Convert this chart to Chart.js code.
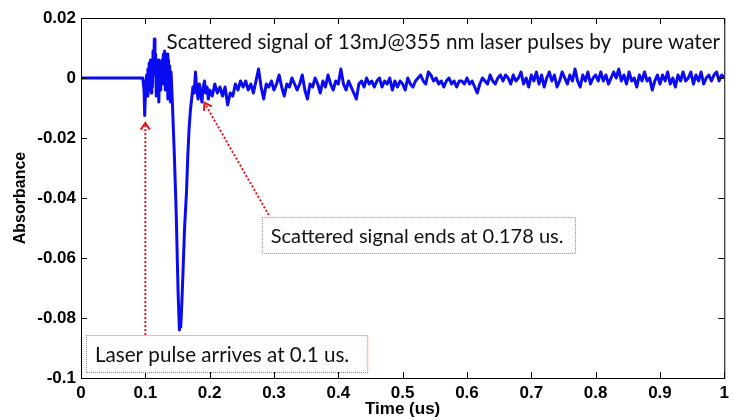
<!DOCTYPE html>
<html>

<head>
  <title>Scattered signal</title>
  <script src="https://cdn.jsdelivr.net/npm/chart.js@4.4.0/dist/chart.umd.min.js"></script>
  <style>
    html, body { margin: 0; padding: 0; background: #fff; }
  </style>
</head>

<body>
  <canvas id="signalChart" width="734" height="420"></canvas>

  <script>
    // trace: time in us, absorbance
    const timeUs = [
      0, 0.096, 0.098, 0.099, 0.1005,
      0.102, 0.103, 0.104, 0.105, 0.106, 0.107, 0.108, 0.109, 0.110, 0.111,
      0.112, 0.113, 0.114, 0.115, 0.116, 0.117, 0.118, 0.119, 0.120, 0.121,
      0.122, 0.123, 0.124,
      0.126, 0.127, 0.128, 0.129, 0.130, 0.131, 0.132, 0.133, 0.134, 0.135,
      0.136, 0.137, 0.138, 0.139, 0.140,
      0.142, 0.145, 0.148, 0.151, 0.153, 0.154, 0.155, 0.156, 0.158, 0.161, 0.164,
      0.166, 0.168, 0.170, 0.172, 0.174, 0.176, 0.178, 0.180, 0.182, 0.184,
      0.186, 0.188, 0.190, 0.192, 0.194, 0.196, 0.198, 0.200,
      0.204, 0.208, 0.212, 0.216, 0.220, 0.224, 0.228, 0.232, 0.236, 0.240,
      0.244, 0.248, 0.252, 0.256, 0.260, 0.264, 0.268, 0.272, 0.276, 0.280,
      0.284, 0.288, 0.292, 0.296, 0.300, 0.304, 0.308, 0.312, 0.316, 0.320,
      0.324, 0.328, 0.332, 0.336, 0.340, 0.344, 0.348, 0.352, 0.356, 0.360,
      0.364, 0.368, 0.372, 0.376, 0.380, 0.384, 0.388, 0.392, 0.396, 0.400,
      0.404, 0.408, 0.412, 0.416, 0.420, 0.424, 0.428, 0.432, 0.436, 0.440,
      0.444, 0.448, 0.452, 0.456, 0.460, 0.464, 0.468, 0.472, 0.476, 0.480,
      0.484, 0.488, 0.492, 0.496, 0.500, 0.504, 0.508, 0.512, 0.516, 0.520,
      0.524, 0.528, 0.532, 0.536, 0.540, 0.544, 0.548, 0.552, 0.556, 0.560,
      0.564, 0.568, 0.572, 0.576, 0.580, 0.584, 0.588, 0.592, 0.596, 0.600,
      0.604, 0.608, 0.612, 0.616, 0.620, 0.624, 0.628, 0.632, 0.636, 0.640,
      0.644, 0.648, 0.652, 0.656, 0.660, 0.664, 0.668, 0.672, 0.676, 0.680,
      0.684, 0.688, 0.692, 0.696, 0.700, 0.704, 0.708, 0.712, 0.716, 0.720,
      0.724, 0.728, 0.732, 0.736, 0.740, 0.744, 0.748, 0.752, 0.756, 0.760,
      0.764, 0.768, 0.772, 0.776, 0.780, 0.784, 0.788, 0.792, 0.796, 0.800,
      0.804, 0.808, 0.812, 0.816, 0.820, 0.824, 0.828, 0.832, 0.836, 0.840,
      0.844, 0.848, 0.852, 0.856, 0.860, 0.864, 0.868, 0.872, 0.876, 0.880,
      0.884, 0.888, 0.892, 0.896, 0.900, 0.904, 0.908, 0.912, 0.916, 0.920,
      0.924, 0.928, 0.932, 0.936, 0.940, 0.944, 0.948, 0.952, 0.956, 0.960,
      0.964, 0.968, 0.972, 0.976, 0.980, 0.984, 0.988, 0.992, 0.996, 1.000
    ];
    const absorbance = [
      0, 0, -0.004, -0.0125, -0.003,
      0.001, -0.006, 0.003, -0.004, 0.005, -0.002, 0.006, -0.005, 0.004, -0.003,
      0.009, 0.002, 0.013, 0.001, 0.008, -0.006, 0.004, -0.003, 0.006, -0.008,
      0.002, -0.004, 0.003,
      0.006, -0.002, 0.008, 0.001, 0.009, -0.004, 0.007, -0.003, 0.008, -0.007,
      0.006, -0.002, 0.004, -0.008, 0.002,
      -0.008, -0.025, -0.045, -0.072, -0.084, -0.078, -0.083, -0.079, -0.068, -0.050, -0.038,
      -0.026, -0.017, -0.011, -0.007, -0.003, -0.005, 0.002, -0.004, -0.007, -0.002,
      -0.005, -0.008, -0.003, -0.001, -0.005, -0.003, -0.007, -0.004,
      -0.006, -0.002, -0.005, -0.003, -0.006, -0.003, -0.009, -0.005, -0.006, -0.002,
      -0.004, -0.001, -0.003, -0.001, -0.004, -0.002, -0.005, -0.001, 0.003, -0.003,
      -0.007, -0.002, -0.003, -0.001, -0.004, -0.002, 0.001, -0.003, -0.006, -0.002,
      -0.003, 0.000, -0.002, -0.004, -0.002, 0.001, -0.004, -0.007, -0.002, -0.003,
      0.000, -0.002, -0.005, -0.001, -0.003, 0.001, -0.002, -0.004, -0.001, -0.002,
      0.003, -0.002, -0.004, -0.001, -0.003, -0.005, -0.007, -0.002, -0.001, -0.003,
      0.000, -0.002, -0.001, -0.003, -0.001, 0.000, -0.003, -0.001, -0.002, 0.000,
      -0.004, -0.001, -0.003, -0.001, -0.002, -0.004, 0.000, -0.002, -0.003, -0.001,
      0.000, 0.001, -0.001, -0.002, 0.002, 0.001, -0.001, 0.000, -0.002, -0.001,
      -0.003, -0.001, 0.000, -0.002, -0.001, -0.003, -0.001, -0.001, -0.002, 0.000,
      -0.002, -0.001, -0.003, -0.005, -0.002, 0.000, -0.001, -0.002, 0.001, -0.001,
      -0.002, 0.000, 0.001, -0.001, 0.001, 0.000, -0.002, 0.001, -0.001, 0.000,
      0.002, -0.002, 0.000, -0.003, 0.001, -0.001, 0.002, -0.002, 0.001, -0.003,
      0.000, 0.002, -0.001, 0.001, -0.003, -0.001, 0.002, 0.000, -0.002, 0.001,
      -0.001, 0.003, -0.001, -0.003, 0.001, -0.001, 0.002, -0.002, 0.000, 0.001,
      -0.001, 0.002, -0.001, 0.001, -0.002, 0.000, 0.002, 0.000, 0.003, -0.001,
      0.001, -0.002, 0.002, -0.001, 0.000, -0.003, 0.001, -0.001, 0.002, -0.001,
      0.000, -0.004, -0.001, 0.001, -0.002, 0.001, -0.001, 0.002, -0.002, 0.000,
      -0.003, 0.001, -0.001, 0.002, -0.001, 0.000, 0.002, -0.002, 0.001, -0.001,
      0.002, -0.002, 0.000, 0.001, -0.001, 0.001, 0.002, -0.001, 0.001, 0.000
    ];

    const xTicks = [0, 0.1, 0.2, 0.3, 0.4, 0.5, 0.6, 0.7, 0.8, 0.9, 1];
    const xTickLabels = ['0', '0.1', '0.2', '0.3', '0.4', '0.5', '0.6', '0.7', '0.8', '0.9', '1'];
    const yTicks = [0.02, 0, -0.02, -0.04, -0.06, -0.08, -0.1];
    const yTickLabels = ['0.02', '0', '-0.02', '-0.04', '-0.06', '-0.08', '-0.1'];

    const noteTitle = 'Scattered signal of 13mJ@355 nm laser pulses by  pure water';
    const noteEnd = 'Scattered signal ends at 0.178 us.';
    const noteStart = 'Laser pulse arrives at 0.1 us.';

    const tickFont = { family: '"Liberation Sans", Arial, sans-serif', size: 17, weight: 'bold' };
    const noteFamily = 'Lato, "Noto Sans", sans-serif';

    // write text so it spans px x0..x1, centred on yMid
    function fitText(ctx, text, x0, x1, yMid) {
      ctx.font = '100px ' + noteFamily;
      const w = ctx.measureText(text).width;
      ctx.font = (100 * (x1 - x0) / w).toFixed(2) + 'px ' + noteFamily;
      ctx.fillStyle = '#111';
      ctx.textAlign = 'left';
      ctx.textBaseline = 'middle';
      ctx.fillText(text, x0, yMid);
    }

    function dottedArrow(ctx, x0, y0, x1, y1) {
      ctx.save();
      ctx.strokeStyle = '#e8101a';
      ctx.lineWidth = 2;
      ctx.setLineDash([2, 2]);
      ctx.beginPath();
      ctx.moveTo(x0, y0);
      ctx.lineTo(x1, y1);
      ctx.stroke();
      const a = Math.atan2(y1 - y0, x1 - x0);
      ctx.setLineDash([]);
      ctx.beginPath();
      ctx.moveTo(x1 - 8 * Math.cos(a - 0.6), y1 - 8 * Math.sin(a - 0.6));
      ctx.lineTo(x1, y1);
      ctx.lineTo(x1 - 8 * Math.cos(a + 0.6), y1 - 8 * Math.sin(a + 0.6));
      ctx.stroke();
      ctx.restore();
    }

    function dottedBox(ctx, l, t, r, b) {
      ctx.save();
      ctx.fillStyle = '#fff';
      ctx.fillRect(l, t, r - l, b - t);
      ctx.strokeStyle = '#e05a5a';
      ctx.lineWidth = 1;
      ctx.setLineDash([1, 1]);
      ctx.strokeRect(l + 0.5, t + 0.5, r - l, b - t);
      ctx.restore();
    }

    // frame, inward ticks and the callouts
    const extrasPlugin = {
      id: 'extras',
      afterDraw(chart) {
        const { ctx, chartArea: area, scales: { x, y } } = chart;
        ctx.save();
        ctx.strokeStyle = '#000';
        ctx.lineWidth = 1;
        ctx.strokeRect(area.left + 0.5, area.top + 0.5, area.right - area.left, area.bottom - area.top);
        ctx.beginPath();
        xTicks.forEach(v => {
          const px = Math.round(x.getPixelForValue(v)) + 0.5;
          ctx.moveTo(px, area.bottom); ctx.lineTo(px, area.bottom - 6);
          ctx.moveTo(px, area.top); ctx.lineTo(px, area.top + 6);
        });
        yTicks.forEach(v => {
          const py = Math.round(y.getPixelForValue(v)) + 0.5;
          ctx.moveTo(area.left, py); ctx.lineTo(area.left + 6, py);
          ctx.moveTo(area.right, py); ctx.lineTo(area.right - 6, py);
        });
        ctx.stroke();
        ctx.restore();

        fitText(ctx, noteTitle, x.getPixelForValue(0.133), x.getPixelForValue(0.994), y.getPixelForValue(0.012));

        dottedArrow(ctx, x.getPixelForValue(0.1), y.getPixelForValue(-0.0857),
          x.getPixelForValue(0.1), y.getPixelForValue(-0.015));
        dottedArrow(ctx, x.getPixelForValue(0.292), y.getPixelForValue(-0.0457),
          x.getPixelForValue(0.192), y.getPixelForValue(-0.0083));

        dottedBox(ctx, x.getPixelForValue(0.281), y.getPixelForValue(-0.0463),
          x.getPixelForValue(0.768), y.getPixelForValue(-0.0583));
        fitText(ctx, noteEnd, x.getPixelForValue(0.295), x.getPixelForValue(0.750), y.getPixelForValue(-0.0527));

        dottedBox(ctx, x.getPixelForValue(0.0077), y.getPixelForValue(-0.0857),
          x.getPixelForValue(0.445), y.getPixelForValue(-0.098));
        fitText(ctx, noteStart, x.getPixelForValue(0.0216), x.getPixelForValue(0.417), y.getPixelForValue(-0.0923));
      }
    };

    const ctx = document.getElementById('signalChart').getContext('2d');
    new Chart(ctx, {
      type: 'line',
      data: {
        datasets: [{
          data: timeUs.map((t, i) => ({ x: t, y: absorbance[i] })),
          borderColor: '#0b0bf2',
          borderWidth: 3,
          borderJoinStyle: 'round',
          pointRadius: 0,
          tension: 0,
          fill: false,
        }],
      },
      options: {
        responsive: false,
        devicePixelRatio: 1,
        animation: false,
        layout: { padding: { top: 18, right: 6, left: 0, bottom: 0 } },
        plugins: { legend: { display: false }, tooltip: { enabled: false } },
        scales: {
          x: {
            type: 'linear',
            min: 0,
            max: 1,
            afterBuildTicks: s => { s.ticks = xTicks.map(v => ({ value: v })); },
            afterFit: s => { s.height = 42; },
            grid: { display: false, drawTicks: false, tickLength: 0 },
            border: { display: false },
            ticks: {
              font: tickFont,
              color: '#000',
              padding: 5,
              maxRotation: 0,
              autoSkip: false,
              callback: (v, i) => xTickLabels[i],
            },
            title: {
              display: true,
              text: 'Time (us)',
              color: '#000',
              font: { family: tickFont.family, size: 17, weight: 'bold' },
              padding: { top: 0, bottom: 0 },
            },
          },
          y: {
            type: 'linear',
            min: -0.1,
            max: 0.02,
            afterBuildTicks: s => { s.ticks = yTicks.map(v => ({ value: v })); },
            afterFit: s => { s.width = 81; },
            grid: { display: false, drawTicks: false, tickLength: 0 },
            border: { display: false },
            ticks: {
              font: tickFont,
              color: '#000',
              padding: 5,
              autoSkip: false,
              callback: (v, i) => yTickLabels[i],
            },
            title: {
              display: true,
              text: 'Absorbance',
              color: '#000',
              font: { family: tickFont.family, size: 16, weight: 'bold' },
              padding: { top: 11, bottom: 0 },
            },
          },
        },
      },
      plugins: [extrasPlugin],
    });
  </script>
</body>

</html>
